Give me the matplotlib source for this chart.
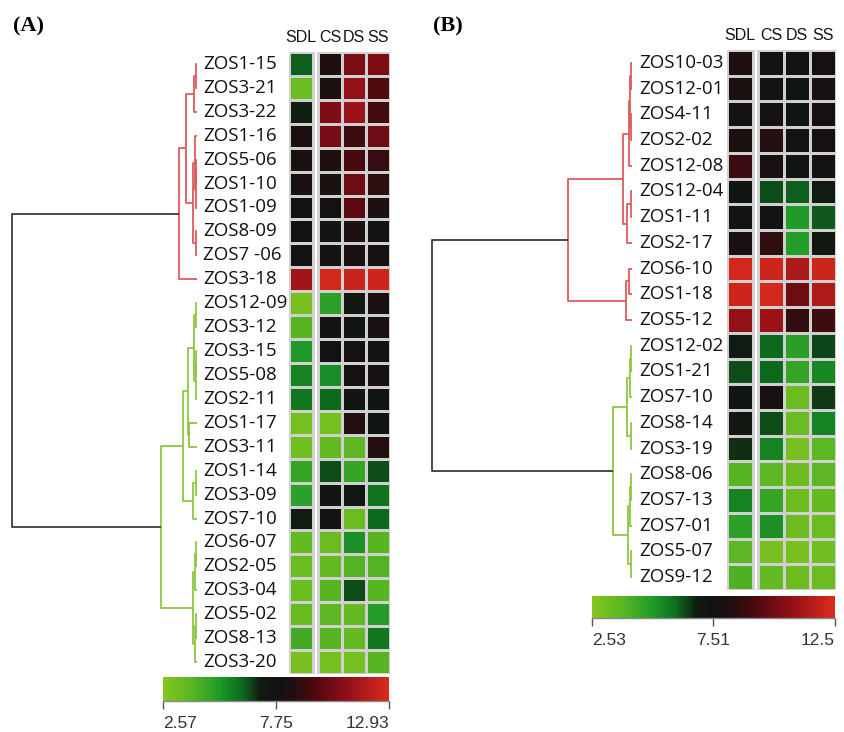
import numpy as np
import matplotlib
matplotlib.use('Agg')
import matplotlib.pyplot as plt
from matplotlib.colors import LinearSegmentedColormap, Normalize
from matplotlib.transforms import blended_transform_factory
import matplotlib.cm as cm

# ---------------- data ----------------
columns = ["SDL", "CS", "DS", "SS"]

genes_A = ["ZOS1-15", "ZOS3-21", "ZOS3-22", "ZOS1-16", "ZOS5-06", "ZOS1-10", "ZOS1-09",
           "ZOS8-09", "ZOS7 -06", "ZOS3-18", "ZOS12-09", "ZOS3-12", "ZOS3-15", "ZOS5-08",
           "ZOS2-11", "ZOS1-17", "ZOS3-11", "ZOS1-14", "ZOS3-09", "ZOS7-10", "ZOS6-07",
           "ZOS2-05", "ZOS3-04", "ZOS5-02", "ZOS8-13", "ZOS3-20"]
sdl_A = [6.30, 3.40, 7.02, 8.37, 8.27, 8.16, 7.75, 7.75, 7.75, 11.38, 2.98, 3.92, 5.16,
         5.68, 5.89, 3.09, 3.19, 4.64, 4.85, 7.13, 3.61, 3.40, 3.30, 3.50, 4.43, 2.98]
cs_A = [8.48, 8.37, 10.65, 10.44, 8.48, 8.27, 7.96, 7.65, 7.85, 12.62, 4.85, 7.65, 7.75,
        5.47, 6.20, 3.09, 3.61, 6.51, 7.44, 7.85, 3.40, 3.61, 3.92, 3.81, 3.92, 3.09]
ds_A = [10.55, 11.07, 11.27, 9.20, 9.41, 10.24, 9.82, 8.37, 8.16, 12.41, 7.23, 7.44, 7.96,
        7.96, 7.44, 8.58, 3.81, 4.64, 7.34, 3.40, 5.37, 4.02, 6.51, 3.61, 3.61, 3.09]
ss_A = [10.55, 9.61, 9.30, 10.24, 8.99, 8.79, 8.37, 7.75, 7.96, 12.52, 8.16, 8.16, 7.85,
        8.06, 7.54, 7.54, 8.58, 6.51, 5.99, 6.20, 3.92, 4.02, 3.92, 5.06, 5.89, 3.92]
scale_A = [2.57, 7.75, 12.93]
# linkage: (child a, child b, height); leaves 0..25, merges numbered from 26
link_A = [(0, 1, 1.5), (26, 2, 3), (4, 5, 1), (28, 6, 1.5), (3, 29, 2.5), (7, 8, 1),
          (30, 31, 4), (27, 32, 11), (33, 9, 18),
          (10, 11, 1), (12, 13, 0.8), (36, 14, 1.5), (35, 37, 3), (15, 16, 8), (38, 39, 9),
          (17, 18, 1.5), (41, 19, 4), (40, 42, 14), (20, 21, 1), (44, 22, 2.5), (23, 24, 1),
          (46, 25, 2.5), (45, 47, 4), (43, 48, 36),
          (34, 49, 185)]

genes_B = ["ZOS10-03", "ZOS12-01", "ZOS4-11", "ZOS2-02", "ZOS12-08", "ZOS12-04", "ZOS1-11",
           "ZOS2-17", "ZOS6-10", "ZOS1-18", "ZOS5-12", "ZOS12-02", "ZOS1-21", "ZOS7-10",
           "ZOS8-14", "ZOS3-19", "ZOS8-06", "ZOS7-13", "ZOS7-01", "ZOS5-07", "ZOS9-12"]
sdl_B = [8.21, 8.01, 7.61, 8.01, 8.81, 7.32, 7.42, 7.91, 12.20, 12.10, 10.71, 6.82, 6.32,
         7.22, 7.12, 6.62, 3.83, 5.52, 4.72, 3.73, 4.03]
cs_B = [7.52, 7.42, 7.71, 8.41, 7.81, 6.32, 7.42, 8.61, 12.10, 12.20, 10.90, 6.02, 6.02,
        7.91, 6.32, 5.52, 3.73, 4.52, 5.22, 2.93, 3.53]
ds_B = [7.52, 7.32, 7.22, 7.42, 7.22, 6.12, 5.02, 4.92, 11.30, 9.91, 8.61, 4.82, 4.52,
        3.33, 3.33, 2.93, 3.23, 3.23, 3.23, 2.93, 3.23]
ss_B = [7.71, 7.81, 7.71, 7.71, 7.61, 6.82, 6.22, 7.12, 12.10, 11.40, 8.91, 6.42, 5.42,
        6.52, 5.52, 3.73, 3.73, 3.53, 3.33, 3.13, 3.33]
scale_B = [2.53, 7.51, 12.5]
link_B = [(0, 1, 1), (2, 3, 1), (21, 22, 2), (23, 4, 3), (5, 6, 1.5), (25, 7, 5),
          (24, 26, 9), (8, 9, 3), (28, 10, 6), (27, 29, 64),
          (11, 12, 1), (31, 13, 2), (14, 15, 1.5), (32, 33, 5), (16, 17, 1), (35, 18, 2),
          (19, 20, 1), (36, 37, 4), (34, 38, 19),
          (30, 39, 200)]

# ---------------- style ----------------
W, H = 844, 732
fig = plt.figure(figsize=(W / 100, H / 100), dpi=100)

cmap = LinearSegmentedColormap.from_list("gbr", [
    (0.00, "#84c51d"), (0.12, "#5cb722"), (0.25, "#1f9a28"), (0.35, "#0c6a1c"),
    (0.43, "#101c12"), (0.50, "#121212"), (0.57, "#1e1010"), (0.68, "#50090f"),
    (0.82, "#930f17"), (1.00, "#dc2b1d")])

RED = "#de5b5b"
GREEN = "#8dc63f"
ROOT = "#3a3a3a"
LABEL_FONT = ["Open Sans", "DejaVu Sans"]
NUM_FONT = ["Liberation Sans", "DejaVu Sans"]
HEAD_FONT = ["Liberation Sans Narrow", "Liberation Sans", "DejaVu Sans"]


def rect(x0, y0, x1, y1):
    return [x0 / W, 1 - y1 / H, (x1 - x0) / W, (y1 - y0) / H]


def draw_dendro(ax, links, n, colors, hmax):
    ypos = {i: i + 0.5 for i in range(n)}
    hpos = {i: 0.0 for i in range(n)}
    col = {}
    root_id = n + len(links) - 1
    root = links[-1]
    col[root_id] = ROOT
    col[root[0]] = colors[0]
    col[root[1]] = colors[1]
    for k, (a, b, h) in enumerate(links):
        nid = n + k
        ypos[nid] = (ypos[a] + ypos[b]) / 2
        hpos[nid] = h
    for k in range(len(links) - 1, -1, -1):
        nid = n + k
        a, b, h = links[k]
        c = col.get(nid, ROOT)
        col.setdefault(a, c)
        col.setdefault(b, c)
    for k, (a, b, h) in enumerate(links):
        nid = n + k
        c = col[nid]
        ax.plot([hpos[a], h, h, hpos[b]], [ypos[a], ypos[a], ypos[b], ypos[b]],
                color=c, lw=1.3, solid_capstyle='butt', clip_on=False)
    ax.set_xlim(hmax, 0)
    ax.set_ylim(n, 0)
    ax.axis('off')


def draw_panel(genes, cols_data, links, scale, colors, geom, letter, letter_x):
    (dx0, dx1, hx0, hx1, y0, y1, lab_x, cb) = geom
    data = np.column_stack(cols_data)
    n = data.shape[0]
    norm = Normalize(vmin=scale[0], vmax=scale[-1])

    axd = fig.add_axes(rect(dx0, y0, dx1, y1))
    draw_dendro(axd, links, n, colors, links[-1][2])

    axh = fig.add_axes(rect(hx0, y0, hx1, y1))
    cw = (hx1 - hx0 - 5) / 4.0
    gap = 5 / cw
    ye = np.arange(n + 1)
    axh.pcolormesh([0, 1], ye, data[:, :1], cmap=cmap, norm=norm,
                   edgecolors="#d0d0d0", linewidth=0.8)
    axh.pcolormesh(np.arange(4) + 1 + gap, ye, data[:, 1:], cmap=cmap, norm=norm,
                   edgecolors="#d0d0d0", linewidth=0.8)
    axh.set_xlim(0, 4 + gap)
    axh.set_ylim(n, 0)
    axh.axis('off')
    centers = [0.5, 1.5 + gap, 2.5 + gap, 3.5 + gap]
    for c, name in zip(centers, columns):
        axh.text(c, -0.28, name, ha='center', va='bottom', fontsize=11.5,
                 family=HEAD_FONT, color="#111")

    tr = blended_transform_factory(fig.transFigure, axh.transData)
    for i, g in enumerate(genes):
        axh.text(lab_x / W, i + 0.5, g, transform=tr, ha='left', va='center',
                 fontsize=13.5, family=LABEL_FONT, color="#111")

    cax = fig.add_axes(rect(*cb))
    sm = cm.ScalarMappable(norm=norm, cmap=cmap)
    cbar = fig.colorbar(sm, cax=cax, orientation='horizontal', ticks=scale)
    cbar.set_ticklabels([f"{v:g}" for v in scale])
    cbar.outline.set_visible(False)
    cax.axhline(0, color="#888", lw=1.0, clip_on=False)
    cax.tick_params(axis='x', length=6, width=1.0, color="#555", labelsize=12.5,
                    labelcolor="#333", pad=5)
    labs = cax.get_xticklabels()
    for lab in labs:
        lab.set_fontfamily(NUM_FONT)
    labs[0].set_ha('left')
    labs[-1].set_ha('right')

    fig.text(letter_x / W, 1 - 31 / H, letter, fontsize=16, fontweight='bold',
             family=["Liberation Serif", "DejaVu Serif"], ha='left', va='baseline')


draw_panel(genes_A, [sdl_A, cs_A, ds_A, ss_A], link_A, scale_A, [RED, GREEN],
           (12, 197, 289, 390, 52, 674, 203, (163, 677, 389, 701)), "(A)", 13)
draw_panel(genes_B, [sdl_B, cs_B, ds_B, ss_B], link_B, scale_B, [RED, GREEN],
           (432, 632, 727, 836, 50, 590, 639, (592, 596, 835, 618)), "(B)", 433)

fig.savefig("out.png", dpi=100)
